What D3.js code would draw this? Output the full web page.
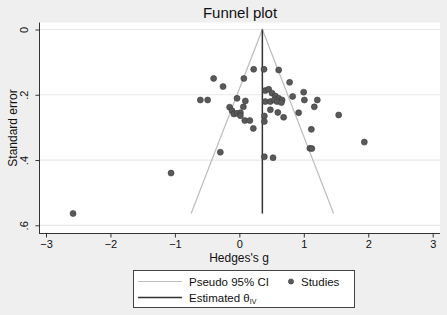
<!DOCTYPE html>
<html>
<head>
<meta charset="utf-8">
<script src="https://cdn.jsdelivr.net/npm/d3@7"></script>
<style>
  body { margin: 0; background: #efefef; }
  svg { display: block; font-family: "Liberation Sans", Arial, sans-serif; }
</style>
</head>
<body>
<script>
// study effect sizes (Hedges's g) and their standard errors
var hedgesG = [0.222, 0.383, 0.610, -0.399, 0.070, 0.780, -0.253, 0.998, -0.605, -0.492,
  -0.036, 0.093, 0.827, 1.009, 1.210, 1.163, 1.541, 0.920, 0.687, 0.597,
  0.481, 0.388, 0.388, 0.217, 1.117, -0.295, 1.094, 1.125, 0.388, 0.523,
  1.939, -1.060, -2.580, -0.151, -0.113, -0.085, -0.036, 0.016, 0.016, 0.062,
  0.085, 0.163, 0.403, 0.455, 0.507, 0.559, 0.610, 0.663, 0.403, 0.481,
  0.543, 0.585, 0.652];
var stdErr = [0.122, 0.122, 0.124, 0.150, 0.150, 0.162, 0.175, 0.192, 0.216, 0.216,
  0.211, 0.219, 0.205, 0.216, 0.216, 0.237, 0.262, 0.255, 0.269, 0.254,
  0.246, 0.265, 0.282, 0.303, 0.306, 0.376, 0.364, 0.365, 0.390, 0.393,
  0.345, 0.440, 0.564, 0.238, 0.249, 0.259, 0.257, 0.255, 0.264, 0.237,
  0.279, 0.279, 0.187, 0.183, 0.195, 0.204, 0.211, 0.216, 0.221, 0.221,
  0.216, 0.221, 0.224];
var thetaIV = 0.357;
var xTicks = [-3, -2, -1, 0, 1, 2, 3];
var yTicks = [0, 0.2, 0.4, 0.6];
var yTickLabels = ["0", ".2", ".4", ".6"];

var W = 447, H = 315;
var svg = d3.select('body').append('svg').attr('width', W).attr('height', H);

svg.append('rect').attr('width', W).attr('height', H).attr('fill', '#efefef');

var xScale = d3.scaleLinear().domain([-3, 3]).range([46, 432.7]);
var yScale = d3.scaleLinear().domain([0, 0.6]).range([29.5, 225.3]);

// plot region
svg.append('rect')
  .attr('x', 39).attr('y', 22.5)
  .attr('width', 401).attr('height', 211)
  .attr('fill', '#ffffff');

// grid lines
svg.selectAll('.grid').data(yTicks).enter().append('line')
  .attr('x1', 40).attr('x2', 440)
  .attr('y1', function(d) { return yScale(d); })
  .attr('y2', function(d) { return yScale(d); })
  .attr('stroke', '#e8e8e8').attr('stroke-width', 1.2);

// axes
var xAxis = d3.axisBottom(xScale).tickValues(xTicks).tickSize(4).tickPadding(3)
  .tickFormat(d3.format('d'));
var gx = svg.append('g').attr('transform', 'translate(0,233.5)').call(xAxis);
gx.select('.domain').attr('d', 'M39,0H440').attr('stroke', '#333');
gx.selectAll('.tick line').attr('stroke', '#333');
gx.selectAll('text').attr('font-size', 11).attr('fill', '#111')
  .attr('font-family', '"Liberation Sans", Arial, sans-serif');

var yAxis = d3.axisLeft(yScale).tickValues(yTicks).tickSize(4).tickPadding(3)
  .tickFormat(function(d, i) { return yTickLabels[i]; });
var gy = svg.append('g').attr('transform', 'translate(39.5,0)').call(yAxis);
gy.select('.domain').attr('d', 'M0,22.5V234').attr('stroke', '#333');
gy.selectAll('.tick line').attr('stroke', '#333');
gy.selectAll('text')
  .attr('font-size', 11).attr('fill', '#111')
  .attr('font-family', '"Liberation Sans", Arial, sans-serif')
  .attr('text-anchor', 'middle')
  .attr('x', null).attr('dy', null)
  .attr('transform', 'translate(-14,0) rotate(-90)')
  .attr('dominant-baseline', 'middle');

// axis titles
svg.append('text').attr('x', 239).attr('y', 262)
  .attr('text-anchor', 'middle').attr('font-size', 12).attr('fill', '#111')
  .text("Hedges's g");
svg.append('text')
  .attr('transform', 'translate(17,128) rotate(-90)')
  .attr('text-anchor', 'middle').attr('font-size', 12).attr('fill', '#111')
  .text('Standard error');

// title
svg.append('text').attr('x', 240).attr('y', 18)
  .attr('text-anchor', 'middle').attr('font-size', 15).attr('fill', '#111')
  .text('Funnel plot');

// pseudo 95% CI funnel
var seMax = d3.max(stdErr);
var funnel = [
  [thetaIV - 1.96 * seMax, seMax],
  [thetaIV, 0],
  [thetaIV + 1.96 * seMax, seMax]
];
svg.append('path')
  .datum(funnel)
  .attr('d', d3.line().x(function(d) { return xScale(d[0]); }).y(function(d) { return yScale(d[1]); }))
  .attr('fill', 'none').attr('stroke', '#bdbdbd').attr('stroke-width', 1.2);

// estimated theta
svg.append('line')
  .attr('x1', xScale(thetaIV)).attr('x2', xScale(thetaIV))
  .attr('y1', yScale(0)).attr('y2', yScale(seMax))
  .attr('stroke', '#333').attr('stroke-width', 1.5);

// studies
svg.selectAll('.study').data(hedgesG).enter().append('circle')
  .attr('cx', function(d) { return xScale(d); })
  .attr('cy', function(d, i) { return yScale(stdErr[i]); })
  .attr('r', 3)
  .attr('fill', '#595959').attr('stroke', '#3a3a3a').attr('stroke-width', 0.6);

// legend
var lg = svg.append('g');
lg.append('rect').attr('x', 133.5).attr('y', 270.5).attr('width', 221).attr('height', 37)
  .attr('fill', '#fff').attr('stroke', '#444');
lg.append('line').attr('x1', 138).attr('x2', 182).attr('y1', 281.5).attr('y2', 281.5)
  .attr('stroke', '#bdbdbd').attr('stroke-width', 1.2);
lg.append('line').attr('x1', 138).attr('x2', 182).attr('y1', 297.5).attr('y2', 297.5)
  .attr('stroke', '#333').attr('stroke-width', 1.5);
lg.append('circle').attr('cx', 291).attr('cy', 281.5).attr('r', 2.6)
  .attr('fill', '#595959').attr('stroke', '#3a3a3a').attr('stroke-width', 0.6);
lg.append('text').attr('x', 189).attr('y', 285.5).attr('font-size', 11.5).attr('fill', '#111')
  .text('Pseudo 95% CI');
lg.append('text').attr('x', 301).attr('y', 285.5).attr('font-size', 11.5).attr('fill', '#111')
  .text('Studies');
var t2 = lg.append('text').attr('x', 189).attr('y', 301.5).attr('font-size', 11.5).attr('fill', '#111');
t2.append('tspan').text('Estimated θ');
t2.append('tspan').attr('font-size', 7).attr('dy', 2).text('IV');
</script>
</body>
</html>
